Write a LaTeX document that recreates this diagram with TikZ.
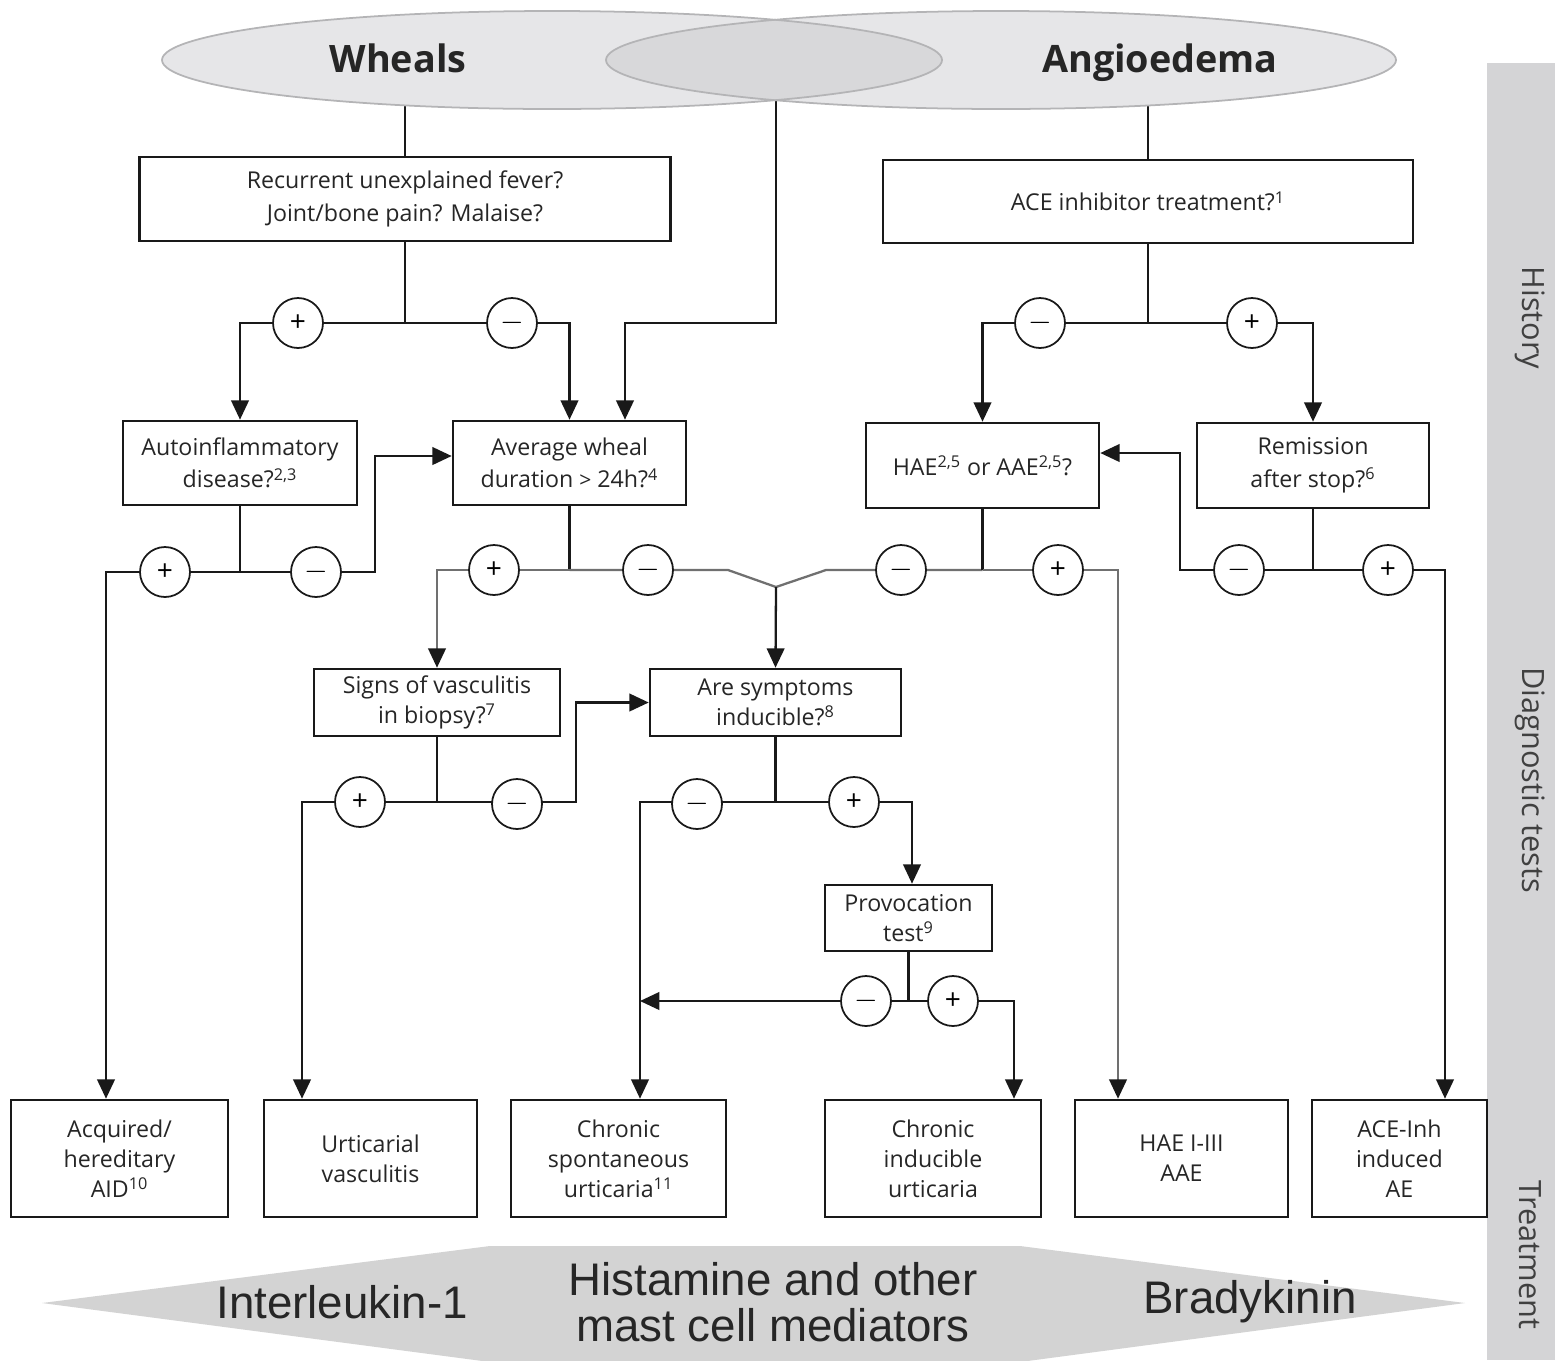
\documentclass[tikz,border=0pt]{standalone}
\usepackage{fontspec}
\setmainfont{Open Sans}
\newfontfamily\arialfont{Liberation Sans}
\usetikzlibrary{arrows.meta,shapes.geometric}
\definecolor{ellfill}{HTML}{E6E6E8}
\definecolor{ellover}{HTML}{D8D8DA}
\definecolor{ellline}{HTML}{B4B4B6}
\definecolor{barfill}{HTML}{D4D4D6}
\definecolor{hexfill}{HTML}{D3D3D3}
\definecolor{txt}{HTML}{262626}
\definecolor{glinecol}{HTML}{707070}
\begin{document}
\begin{tikzpicture}[x=0.02cm,y=-0.02cm,
  ln/.style={line width=1.3pt, draw=black!90},
  gln/.style={line width=1.3pt, draw=glinecol},
  arr/.style={-{Triangle[length=11pt,width=10pt,color=black!90]}},
  box/.style={draw=black!90, line width=1.5pt, fill=white, align=center, inner sep=0pt,
    font=\fontsize{13.2}{18.5}\selectfont, text=txt},
  bbox/.style={box, font=\fontsize{13.2}{17}\selectfont},
  circ/.style={circle, draw=black!90, line width=1pt, fill=white, minimum size=1cm, inner sep=0pt,
    font=\fontsize{16}{16}\selectfont},
  side/.style={rotate=-90, font=\fontsize{17.5}{20}\selectfont, text=black!75},
  hex/.style={font=\arialfont\fontsize{26}{28}\selectfont, text=black!85, align=center},
  ell/.style={font=\bfseries\fontsize{21.5}{24}\selectfont, text=black!85, anchor=base}
]
\useasboundingbox (0,0) rectangle (1559,1360);

% side bar
\fill[barfill] (1487,63) rectangle (1555,1360);
\node[side] (hist) at (1530,318) {History};
\node[side] (diag) at (1530,780) {Diagnostic tests};
\node[side] (treat) at (1530,1255) {Treatment};

% bottom hexagon
\fill[hexfill] (42,1303) -- (490,1246) -- (1020,1246) -- (1465,1303) -- (1020,1362) -- (490,1362) -- cycle;
\node[hex] (il1) at (342,1302) {Interleukin-1};
\node[hex] (hist2) at (773,1302) {Histamine and other\\[-2pt]mast cell mediators};
\node[hex] (brady) at (1250,1302) {Bradykinin};

% boxes
\node[box, minimum width=10.62cm, minimum height=1.68cm] (box1) at (405,199) {Recurrent unexplained fever?\\Joint/bone pain? Malaise?};
\node[box, minimum width=10.6cm, minimum height=1.66cm] (ace) at (1148,201.5) {ACE inhibitor treatment?\textsuperscript{1}};
\node[box, minimum width=4.68cm, minimum height=1.68cm] (auto) at (240,463) {Autoinflammatory\\disease?\textsuperscript{2,3}};
\node[box, minimum width=4.66cm, minimum height=1.68cm] (avg) at (569.5,463) {Average wheal\\duration {\fontsize{12}{12}\selectfont>} 24h?\textsuperscript{4}};
\node[box, minimum width=4.66cm, minimum height=1.7cm] (hae) at (982.5,465.5) {HAE\textsuperscript{2,5} or AAE\textsuperscript{2,5}?};
\node[box, minimum width=4.64cm, minimum height=1.7cm] (rem) at (1313,465.5) {Remission\\after stop?\textsuperscript{6}};
\node[bbox, minimum width=4.92cm, minimum height=1.34cm] (signs) at (437,702.5) {Signs of vasculitis\\in biopsy?\textsuperscript{7}};
\node[bbox, minimum width=5.02cm, minimum height=1.34cm] (are) at (775.5,702.5) {Are symptoms\\inducible?\textsuperscript{8}};
\node[bbox, minimum width=3.34cm, minimum height=1.32cm] (prov) at (908.5,918) {Provocation\\test\textsuperscript{9}};
\node[bbox, minimum width=4.34cm, minimum height=2.34cm] (acq) at (119.5,1158.5) {Acquired/\\hereditary\\AID\textsuperscript{10}};
\node[bbox, minimum width=4.26cm, minimum height=2.34cm] (uv) at (370.5,1158.5) {Urticarial\\vasculitis};
\node[bbox, minimum width=4.3cm, minimum height=2.34cm] (csu) at (618.5,1158.5) {Chronic\\spontaneous\\urticaria\textsuperscript{11}};
\node[bbox, minimum width=4.32cm, minimum height=2.34cm] (ciu) at (933,1158.5) {Chronic\\inducible\\urticaria};
\node[bbox, minimum width=4.26cm, minimum height=2.34cm] (hae13) at (1181.5,1158.5) {HAE I-III\\AAE};
\node[bbox, minimum width=3.5cm, minimum height=2.34cm] (aceinh) at (1399.5,1158.5) {ACE-Inh\\induced\\AE};

% junction coordinates
\coordinate (mid) at (776,60);
\coordinate (j1) at (405,323);
\coordinate (j2) at (1148,323);
\coordinate (j3) at (240,572);
\coordinate (j4) at (569.5,570);
\coordinate (v) at (776,587);
\coordinate (j5) at (982.5,570);
\coordinate (j6) at (1313,570);
\coordinate (j7) at (437,802);
\coordinate (j8) at (775.5,802);
\coordinate (j9) at (908.5,1001);
\coordinate (csuin) at ([xshift=0.43cm]csu.north);

% connectors from ellipses (drawn first, ellipses cover their tops)
\draw[ln] (box1.north) -- (box1.north |- mid);
\draw[ln] (ace.north) -- (ace.north |- mid);
\draw[ln, arr] (mid) -- (mid |- j1) -| ([xshift=1.11cm]avg.north);

% top ellipses
\fill[ellfill] (552,60) ellipse [x radius=390, y radius=49];
\fill[ellfill] (1001,60) ellipse [x radius=395, y radius=49];
\begin{scope}
  \clip (552,60) ellipse [x radius=390, y radius=49];
  \fill[ellover] (1001,60) ellipse [x radius=395, y radius=49];
\end{scope}
\draw[ellline, line width=1pt] (552,60) ellipse [x radius=390, y radius=49];
\draw[ellline, line width=1pt] (1001,60) ellipse [x radius=395, y radius=49];
\node[ell] (wheals) at (398,72) {Wheals};
\node[ell] (angio) at (1160,72) {Angioedema};

% level 1
\draw[ln] (box1.south) -- (j1);
\draw[ln, arr] (j1) -| (auto.north);
\draw[ln, arr] (j1) -| (avg.north);
\draw[ln] (ace.south) -- (j2);
\draw[ln, arr] (j2) -| (hae.north);
\draw[ln, arr] (j2) -| (rem.north);

% level 2
\draw[ln] (auto.south) -- (j3);
\draw[ln, arr] (j3) -| ([xshift=-0.27cm]acq.north);
\draw[ln, arr] (j3) -- (375,572) |- ([yshift=0.14cm]avg.west);
\draw[ln] (avg.south) -- (j4);
\draw[gln, arr] (j4) -| (signs.north);
\draw[gln] (j4) -- (728,570) -- (v) -- (826,570) -- (j5);
\draw[ln, arr] (v) -- (are.north);
\draw[ln] (hae.south) -- (j5);
\draw[gln, arr] (j5) -| ([xshift=-1.27cm]hae13.north);
\draw[ln] (rem.south) -- (j6);
\draw[ln, arr] (j6) -- (1180,570) |- ([yshift=0.25cm]hae.east);
\draw[ln, arr] (j6) -| ([xshift=0.91cm]aceinh.north);

% level 3
\draw[ln] (signs.south) -- (j7);
\draw[ln, arr] (j7) -| ([xshift=-1.37cm]uv.north);
\draw[ln, arr] (j7) -- (576,802) |- (are.west);
\draw[ln] (are.south) -- (j8);
\draw[ln, arr] (j8) -| (csuin);
\draw[ln, arr] (j8) -| ([xshift=0.07cm]prov.north);

% level 4
\draw[ln] (prov.south) -- (j9);
\draw[ln, arr] (j9) -- (csuin |- j9);
\draw[ln, arr] (j9) -| ([xshift=1.62cm]ciu.north);

% circles
\node[circ] (p1) at (298,323) {+};
\node[circ] (m1) at (512,323) {$-$};
\node[circ] (m2) at (1040,323) {$-$};
\node[circ] (p2) at (1252,323) {+};
\node[circ] (p3) at (165,572) {+};
\node[circ] (m3) at (316,572) {$-$};
\node[circ] (p4) at (494,570) {+};
\node[circ] (m4) at (648,570) {$-$};
\node[circ] (m5) at (901,570) {$-$};
\node[circ] (p5) at (1058,570) {+};
\node[circ] (m6) at (1239,570) {$-$};
\node[circ] (p6) at (1388,570) {+};
\node[circ] (p7) at (360,802) {+};
\node[circ] (m7) at (517,804) {$-$};
\node[circ] (m8) at (697,804) {$-$};
\node[circ] (p8) at (854,802) {+};
\node[circ] (m9) at (866,1001) {$-$};
\node[circ] (p9) at (953,1001) {+};
\end{tikzpicture}
\end{document}
